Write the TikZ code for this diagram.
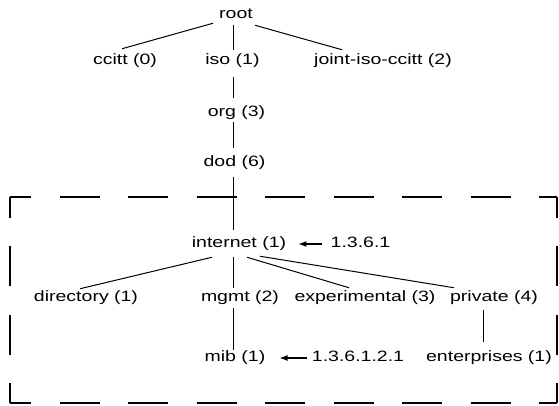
\documentclass[tikz,border=0pt]{standalone}
\usepackage{fontspec}
\setmainfont{Liberation Sans}[FakeStretch=1.3]
\usetikzlibrary{arrows.meta}
\begin{document}
\begin{tikzpicture}[x=1pt,y=1pt,
  lbl/.style={inner sep=0pt, text height=10.9pt, text depth=3.2pt, font=\fontsize{15}{18}\selectfont},
  edge/.style={line width=1pt},
  ptr/.style={line width=1.3pt, -{Latex[length=8pt,width=6pt]}},
  boxline/.style={line width=1.1pt, dash pattern=on 40pt off 28.5pt, dash phase=19pt}]
\useasboundingbox (0,0) rectangle (559,406);
% nodes
\node[lbl] (root) at (236,391) {root};
\node[lbl] (ccitt) at (125,345) {ccitt (0)};
\node[lbl] (iso) at (232.5,345) {iso (1)};
\node[lbl] (joint) at (383,345) {joint-iso-ccitt (2)};
\node[lbl] (org) at (236.5,293) {org (3)};
\node[lbl] (dod) at (234.5,243) {dod (6)};
\node[lbl] (internet) at (239,162) {internet (1)};
\node[lbl] (oid1) at (360.5,162) {1.3.6.1};
\node[lbl] (directory) at (86,108) {directory (1)};
\node[lbl] (mgmt) at (240,108) {mgmt (2)};
\node[lbl] (experimental) at (365,108) {experimental (3)};
\node[lbl] (private) at (494,108) {private (4)};
\node[lbl] (mib) at (235,48) {mib (1)};
\node[lbl] (oid2) at (358,48) {1.3.6.1.2.1};
\node[lbl] (enterprises) at (489,48) {enterprises (1)};
% tree edges
\draw[edge] ([xshift=-23pt,yshift=-1pt]root.south) -- ([xshift=-3pt,yshift=5pt]ccitt.north);
\draw[edge] ([xshift=-3pt,yshift=-3pt]root.south) -- ([xshift=0.5pt,yshift=4pt]iso.north);
\draw[edge] ([xshift=19pt,yshift=-3pt]root.south) -- ([xshift=-41pt,yshift=4pt]joint.north);
\draw[edge] ([xshift=0.5pt,yshift=-9pt]iso.south) -- ([xshift=-3.5pt,yshift=8pt]org.north);
\draw[edge] ([xshift=-3.5pt,yshift=-2pt]org.south) -- ([xshift=-1.5pt,yshift=8pt]dod.north);
\draw[edge] ([xshift=-1.5pt,yshift=-7pt]dod.south) -- ([xshift=-6pt,yshift=7pt]internet.north);
\draw[edge] ([xshift=-27pt,yshift=-6pt]internet.south) -- ([xshift=-6pt,yshift=2pt]directory.north);
\draw[edge] ([xshift=-6pt,yshift=-6pt]internet.south) -- ([xshift=-7pt,yshift=3pt]mgmt.north);
\draw[edge] ([xshift=8pt,yshift=-6pt]internet.south) -- ([xshift=-16pt,yshift=3pt]experimental.north);
\draw[edge] ([xshift=21pt,yshift=-5pt]internet.south) -- ([xshift=-40pt,yshift=3pt]private.north);
\draw[edge] ([xshift=-7pt,yshift=-3pt]mgmt.south) -- ([xshift=-2pt,yshift=1pt]mib.north);
\draw[edge] ([xshift=-11pt,yshift=-5pt]private.south) -- ([xshift=-6pt,yshift=9pt]enterprises.north);
% pointers
\draw[ptr] ([xshift=-8pt]oid1.west) -- ([xshift=12pt]internet.east);
\draw[ptr] ([xshift=-5pt]oid2.west) -- ([xshift=14pt]mib.east);
% dashed box
\coordinate (nw) at (10,209);
\coordinate (ne) at (557,209);
\coordinate (sw) at (10,3);
\coordinate (se) at (557,3);
\draw[boxline] (nw) -- (ne);
\draw[boxline] (nw) -- (sw);
\draw[boxline] (ne) -- (se);
\draw[boxline] (sw) -- (se);
\end{tikzpicture}
\end{document}
